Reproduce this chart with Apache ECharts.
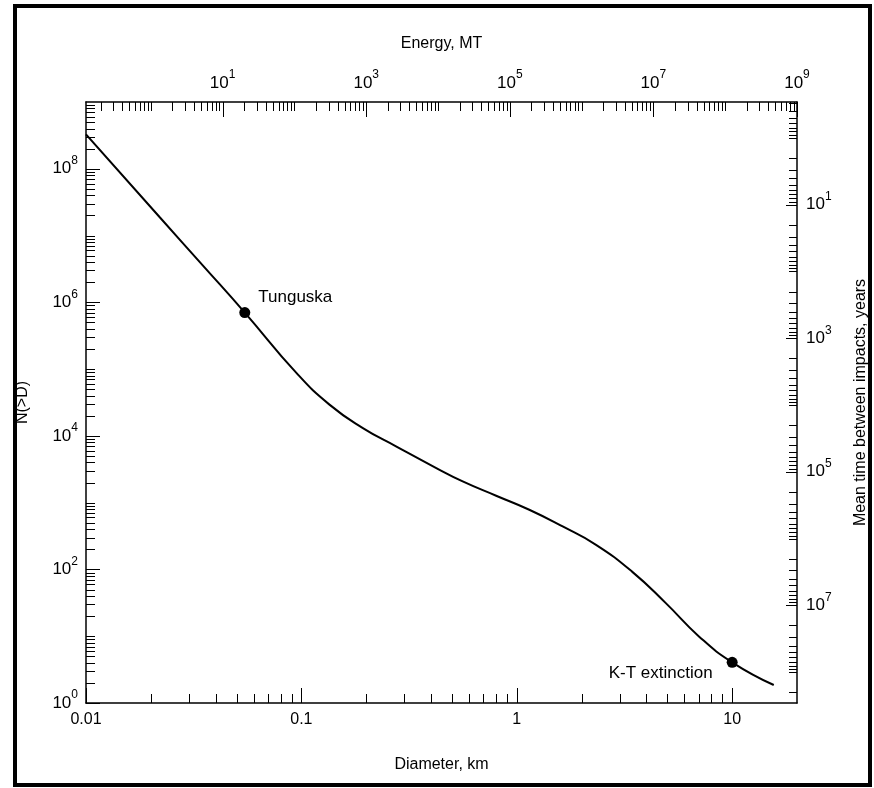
<!DOCTYPE html>
<html><head><meta charset="utf-8">
<script src="https://cdn.jsdelivr.net/npm/echarts@6/dist/echarts.min.js"></script>
<style>html,body{margin:0;padding:0;background:#fff}#c{width:874px;height:788px}</style>
</head><body><div id="c"></div>
<script>
// ---- data ----
const diameterKm = [0.01, 0.022, 0.035, 0.0546, 0.0948, 0.135, 0.193, 0.275, 0.423, 0.561, 0.802, 1.143, 1.633, 2.333, 3.44, 4.92, 7.03, 10, 15.6];
const cumulativeN = [3.28e8, 1.88e7, 3.52e6, 7.03e5, 8.77e4, 2.94e4, 1.31e4, 6970, 3300, 2080, 1270, 783, 440, 234, 92, 31.3, 9.86, 4.07, 1.86];
const eventNames = ['Tunguska', 'K-T extinction'];
const eventDiameter = [0.0546, 10];
const eventN = [7.03e5, 4.07];

const diameterLabels = [0.01, 0.1, 1, 10];
const nLabels = [1, 1e2, 1e4, 1e6, 1e8];
const energyLabels = [10, 1e3, 1e5, 1e7, 1e9];
const timeLabels = [10, 1e3, 1e5, 1e7];

const diameterRange = [0.01, 20];
const nRange = [1, 1e9];
const energyRange = [0.125, 1e9];
const timeRange = [0.29, 2.9e8];

// ---- helpers ----
const FONT = '"Liberation Sans", Arial, sans-serif';
function isIn(v, arr) { return arr.some(a => Math.abs(Math.log10(v / a)) < 1e-6); }
function logTicks(lo, hi, skip) {
  const out = [];
  for (let e = Math.floor(Math.log10(lo)); e <= Math.ceil(Math.log10(hi)); e++) {
    for (let m = 1; m <= 9; m++) {
      const v = m * Math.pow(10, e);
      if (v > lo * 1.0001 && v < hi * 0.9999 && !isIn(v, skip)) out.push(v);
    }
  }
  return out;
}
function powLabel(arr) {
  return v => isIn(v, arr) ? '{b|10}{s|' + Math.round(Math.log10(v)) + '}' : '';
}
const rich = {
  b: { fontSize: 17, lineHeight: 28, fontFamily: FONT, color: '#000' },
  s: { fontSize: 12, lineHeight: 12, verticalAlign: 'top', fontFamily: FONT, color: '#000' }
};
function tickSeries(side, values, len) {
  const isX = side === 'bottom' || side === 'top';
  return {
    type: 'custom', silent: true, z: 10,
    xAxisIndex: side === 'top' ? 1 : 0,
    yAxisIndex: side === 'right' ? 1 : 0,
    data: values.map(v => isX ? [v, 10] : [1, v]),
    renderItem(params, api) {
      const cs = params.coordSys;
      const p = api.coord([api.value(0), api.value(1)]);
      const px = Math.round(p[0]) + 0.5, py = Math.round(p[1]) + 0.5;
      let shape;
      if (side === 'bottom') shape = { x1: px, y1: cs.y + cs.height, x2: px, y2: cs.y + cs.height - len };
      else if (side === 'top') shape = { x1: px, y1: cs.y, x2: px, y2: cs.y + len };
      else if (side === 'left') shape = { x1: cs.x, y1: py, x2: cs.x + len, y2: py };
      else shape = { x1: cs.x + cs.width, y1: py, x2: cs.x + cs.width - len, y2: py };
      return { type: 'line', shape, style: { stroke: '#000', lineWidth: 1 } };
    }
  };
}

const axisLineStyle = { show: true, lineStyle: { color: '#000', width: 1.5 } };
const nameStyle = { color: '#000', fontSize: 16, fontFamily: FONT };

const chart = echarts.init(document.getElementById('c'), null, { renderer: 'canvas' });
chart.setOption({
  animation: false,
  backgroundColor: '#fff',
  textStyle: { fontFamily: FONT },
  grid: { left: 86, right: 77, top: 102, bottom: 85, containLabel: false, outerBoundsMode: 'none' },
  xAxis: [
    {
      type: 'log', logBase: 10, position: 'bottom', min: diameterRange[0], max: diameterRange[1], splitNumber: 10,
      axisLine: axisLineStyle, axisTick: { show: false }, splitLine: { show: false }, minorTick: { show: false },
      axisLabel: { interval: 0, margin: 9, color: '#000', fontSize: 16, fontFamily: FONT,
        formatter: v => isIn(v, diameterLabels) ? String(+v.toPrecision(6)) : '' },
      name: 'Diameter, km', nameLocation: 'middle', nameGap: 54, nameTextStyle: nameStyle
    },
    {
      type: 'log', logBase: 10, position: 'top', min: energyRange[0], max: energyRange[1], splitNumber: 10,
      axisLine: axisLineStyle, axisTick: { show: false }, splitLine: { show: false },
      axisLabel: { interval: 0, margin: 5, formatter: powLabel(energyLabels), rich },
      name: 'Energy, MT', nameLocation: 'middle', nameGap: 50, nameTextStyle: nameStyle
    }
  ],
  yAxis: [
    {
      type: 'log', logBase: 10, position: 'left', min: nRange[0], max: nRange[1], splitNumber: 10,
      axisLine: axisLineStyle, axisTick: { show: false }, splitLine: { show: false },
      axisLabel: { interval: 0, margin: 8, formatter: powLabel(nLabels), rich },
      name: 'N(>D)', nameLocation: 'middle', nameRotate: 90, nameGap: 55, nameTextStyle: nameStyle
    },
    {
      type: 'log', logBase: 10, position: 'right', inverse: true, min: timeRange[0], max: timeRange[1], splitNumber: 10,
      axisLine: axisLineStyle, axisTick: { show: false }, splitLine: { show: false },
      axisLabel: { interval: 0, margin: 9, formatter: powLabel(timeLabels), rich },
      name: 'Mean time between impacts, years', nameLocation: 'middle', nameRotate: 90, nameGap: 56, nameTextStyle: nameStyle
    }
  ],
  graphic: [{
    type: 'rect', silent: true, z: 100,
    shape: { x: 15, y: 6, width: 855, height: 779 },
    style: { fill: 'none', stroke: '#000', lineWidth: 4 }
  }],
  series: [
    {
      type: 'line', xAxisIndex: 0, yAxisIndex: 0, z: 3,
      data: diameterKm.map((d, i) => [d, cumulativeN[i]]),
      showSymbol: false, smooth: 0.5,
      lineStyle: { color: '#000', width: 2 }
    },
    {
      type: 'scatter', xAxisIndex: 0, yAxisIndex: 0, z: 4,
      symbolSize: 11, itemStyle: { color: '#000', opacity: 1 },
      data: eventNames.map((n, i) => ({
        name: n, value: [eventDiameter[i], eventN[i]],
        label: i === 0 ? { position: 'right', distance: 8, offset: [0, -15] }
                       : { position: 'left', distance: 14, offset: [0, 11] }
      })),
      label: { show: true, formatter: '{b}', color: '#000', opacity: 1, fontSize: 17, fontFamily: FONT, textBorderWidth: 0 }
    },
    tickSeries('bottom', diameterLabels, 15),
    tickSeries('bottom', logTicks(diameterRange[0], diameterRange[1], diameterLabels), 9),
    tickSeries('top', energyLabels, 15),
    tickSeries('top', logTicks(energyRange[0], energyRange[1], energyLabels), 9),
    tickSeries('left', nLabels, 14),
    tickSeries('left', logTicks(nRange[0], nRange[1], nLabels), 9),
    tickSeries('right', timeLabels, 11),
    tickSeries('right', logTicks(timeRange[0], timeRange[1], timeLabels), 8)
  ]
});
</script>
</body></html>
